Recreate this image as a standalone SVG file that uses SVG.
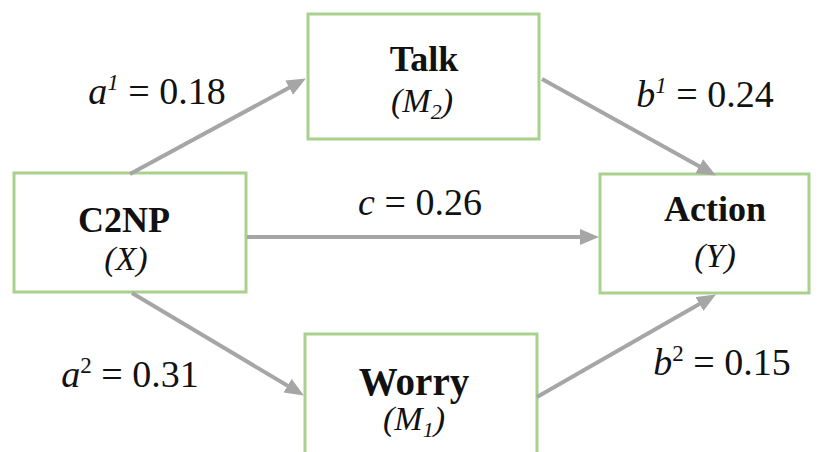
<svg xmlns="http://www.w3.org/2000/svg" width="820" height="452" viewBox="0 0 820 452">
  <style>
    .box { fill: #ffffff; stroke: #a9d18e; stroke-width: 3; }
    .title { font-family: "Liberation Serif", "DejaVu Serif", serif; font-weight: bold; font-size: 36px; fill: #111111; text-anchor: middle; }
    .sym { font-family: "Liberation Serif", "DejaVu Serif", serif; font-style: italic; font-size: 34px; fill: #111111; text-anchor: middle; }
    .coef { font-family: "Liberation Serif", "DejaVu Serif", serif; font-size: 38px; fill: #111111; text-anchor: middle; }
    .it { font-style: italic; }
    .link { stroke: #a6a6a6; stroke-width: 4; fill: none; marker-end: url(#head); }
  </style>
  <defs>
    <marker id="head" markerUnits="userSpaceOnUse" markerWidth="22" markerHeight="18" viewBox="0 0 22 18" refX="4" refY="8" orient="auto">
      <path d="M0,0 L19,8 L0,16 z" fill="#a6a6a6"/>
    </marker>
  </defs>

  <rect width="820" height="452" fill="#ffffff"/>

  <g id="node-talk">
    <rect class="box" x="308" y="14" width="231" height="125"/>
    <text class="title" x="424" y="71">Talk</text>
    <text class="sym" x="422" y="112">(M<tspan font-size="22" dy="7">2</tspan><tspan dy="-7">)</tspan></text>
  </g>

  <g id="node-c2np">
    <rect class="box" x="14" y="173" width="232" height="119"/>
    <text class="title" x="124" y="232">C2NP</text>
    <text class="sym" x="126" y="270">(X)</text>
  </g>

  <g id="node-action">
    <rect class="box" x="600" y="174" width="209" height="119"/>
    <text class="title" x="715" y="221">Action</text>
    <text class="sym" x="715" y="267">(Y)</text>
  </g>

  <g id="node-worry">
    <rect class="box" x="305" y="334" width="232" height="140"/>
    <text class="title" x="414" y="395" style="font-size:39px">Worry</text>
    <text class="sym" x="414" y="430">(M<tspan font-size="22" dy="7">1</tspan><tspan dy="-7">)</tspan></text>
  </g>

  <g id="connectors">
    <line class="link" x1="130" y1="174" x2="292.7" y2="85.7"/>
    <line class="link" x1="542" y1="79" x2="702.8" y2="168.2"/>
    <line class="link" x1="247" y1="237" x2="584" y2="237"/>
    <line class="link" x1="132" y1="293" x2="291" y2="387.8"/>
    <line class="link" x1="537" y1="397" x2="702.9" y2="302"/>
  </g>

  <g id="labels">
    <text class="coef" x="157" y="104"><tspan class="it">a</tspan><tspan class="it" font-size="23" dy="-14">1</tspan><tspan dy="14"> = 0.18</tspan></text>
    <text class="coef" x="705" y="107"><tspan class="it">b</tspan><tspan class="it" font-size="23" dy="-14">1</tspan><tspan dy="14"> = 0.24</tspan></text>
    <text class="coef" x="420" y="215"><tspan class="it">c</tspan> = 0.26</text>
    <text class="coef" x="130" y="387"><tspan class="it">a</tspan><tspan font-size="23" dy="-14">2</tspan><tspan dy="14"> = 0.31</tspan></text>
    <text class="coef" x="722" y="375"><tspan class="it">b</tspan><tspan font-size="23" dy="-14">2</tspan><tspan dy="14"> = 0.15</tspan></text>
  </g>
</svg>
